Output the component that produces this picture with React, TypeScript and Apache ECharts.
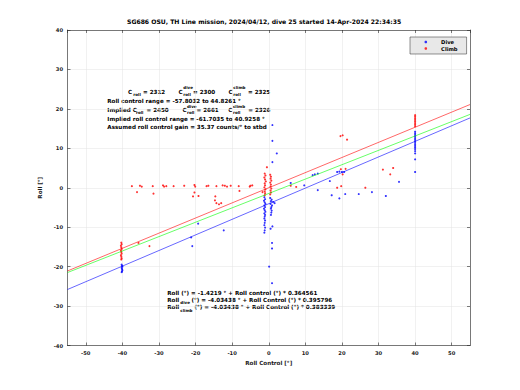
import React, { useEffect, useRef } from 'react';
import * as echarts from 'echarts';

const TITLE = 'SG686 OSU, TH Line mission, 2024/04/12, dive 25 started 14-Apr-2024 22:34:35';
const X_NAME = 'Roll Control [°]';
const Y_NAME = 'Roll [°]';
const X_RANGE = [-55, 55];
const Y_RANGE = [-40, 40];
const SERIES_NAMES = ['Dive', 'Climb'];

// Dive samples (roll control °, roll °)
const diveX = [
  -40.2, -40.1, -40.0, -40.2, -40.1, -40.0, -40.1, -40.2,
  -21.2, -20.9, -19.3, -12.3,
  -1.2, -1.0, -1.3, -1.1, -0.9, -1.2, -1.0, -1.3, -1.1, -0.9, -1.2, -1.0, -1.1, -1.2, -1.0, -1.1, -1.2, -1.0, -1.1, -1.2,
  0.4, 0.8, 0.6, 1.2, 1.6, 0.5, 0.9, 0.7, 0.6, 0.8, 0.7, 0.6,
  1.0, 1.0, 2.2, 1.0, 1.0, 0.5, 0.9, 0.9, 0.1, 0.9,
  6.0, 9.7, 12.0, 12.6, 13.4, 13.4, 16.7, 17.2, 19.3, 20.9, 24.6, 28.2, 32.0, 35.6, 18.7, 19.3, 20.0, 20.6,
  40, 40, 40, 40, 40, 40, 40, 40, 40, 40, 40, 40, 40, 40, 40, 40,
];
const diveY = [
  -19.5, -19.8, -20.0, -20.3, -20.6, -20.9, -21.2, -21.4,
  -12.6, -14.8, -9.1, -10.8,
  -2.4, -2.9, -3.3, -3.7, -4.1, -4.5, -4.9, -5.3, -5.7, -6.1, -6.5, -6.9, -7.3, -7.8, -8.3, -8.9, -9.5, -10.1, -10.8, -11.4,
  -2.6, -3.0, -3.4, -3.6, -3.9, -4.1, -4.5, -4.9, -5.3, -5.8, -6.3, -6.9,
  15.9, 11.9, 8.7, 6.5, -9.8, -10.4, -14.0, -15.4, -20.0, -24.2,
  1.2, 0.6, 3.2, 3.4, 3.6, -0.6, 1.7, -1.9, -2.7, -1.6, -1.6, -1.1, -2.1, 1.5, 4.0, 4.1, 4.0, 4.0,
  14.2, 13.8, 13.4, 13.0, 12.6, 12.2, 11.8, 11.4, 11.0, 10.6, 10.2, 9.8, 9.3, 8.7, 7.2, 4.0,
];

// Climb samples (roll control °, roll °)
const climbX = [
  -40.3, -40.2, -40.4, -40.3, -40.2, -40.4, -40.3, -40.2, -40.4, -40.3, -40.2, -40.3,
  -37.4, -35.2, -34.7, -31.7, -28.9, -28.6, -28.0, -26.0, -23.1, -20.3, -20.1, -17.0, -16.5, -14.3, -12.0, -11.4, -10.4, -8.2, -12.6, -5.0, -5.2, -4.5, 6.0, 7.5,
  -36.0, -31.5, -20.3, -20.7, -19.2, -14.6, -14.7, -14.3, -13.6, -13.0, -8.0, -1.7,
  -35.6, -32.6,
  -1.1, -0.9, -1.2, -1.0, -0.8, -1.1, -1.0, -1.2, -0.9, -1.1, -1.0, -1.1, -0.5,
  0.4, 0.6, 0.5, 0.7, 0.4, 0.6, 0.5, 0.7, 0.5, 0.6, 0.4,
  19.6, 20.2, 21.4, 19.7, 21.0, 20.2, 31.2, 34.0, 33.2, 18.7, 19.8, 26.4,
  40, 40, 40, 40, 40, 40, 40, 40,
];
const climbY = [
  -13.9, -14.3, -14.7, -15.1, -15.5, -15.9, -16.3, -16.7, -17.1, -17.5, -17.9, -18.2,
  0.4, 0.5, 0.3, 0.4, 0.6, 0.3, 0.4, 0.4, 0.5, 0.7, 0.3, 0.4, 0.5, 0.4, 0.5, 0.3, 0.5, 0.4, 0.6, 0.5, 0.3, 0.6, 0.5, 0.2,
  -1.1, -1.5, -1.2, -2.2, -2.1, -2.2, -3.2, -3.9, -4.2, -3.9, -0.8, -1.1,
  -14.0, -14.8,
  3.6, 3.1, 2.6, 2.1, 1.6, 1.1, 0.6, 0.1, -0.4, -0.9, -1.4, -1.9, 5.2,
  3.3, 2.8, 2.3, 1.8, 1.3, 0.8, 0.3, -0.2, -0.7, -1.2, -1.7,
  13.1, 13.3, 12.2, 4.7, 4.8, 3.4, 4.6, 5.0, 3.4, 0.0, 0.4, 0.0,
  15.6, 16.0, 16.4, 16.8, 17.2, 17.6, 18.0, 18.4,
];

// Fit lines, end points read at the axis limits
const fitX = [-55, 55];
const diveFitY = [-25.8, 17.7];
const allFitY = [-21.5, 18.6];
const climbFitY = [-21.1, 21.1];

const FONT = 'DejaVu Sans';
const INK = '#1a1a1a';

type Seg = { t: string; x: number; y: number; s?: number };

function txt(seg: Seg) {
  return {
    type: 'text',
    x: seg.x,
    y: seg.y,
    silent: true,
    style: {
      text: seg.t,
      fill: '#000',
      fontSize: seg.s ?? 5.6,
      fontWeight: 'bold',
      fontFamily: FONT,
      align: 'left',
      verticalAlign: 'middle',
    },
  };
}

export default function App() {
  const ref = useRef<HTMLDivElement>(null);

  useEffect(() => {
    if (!ref.current) return;
    const chart = echarts.init(ref.current, undefined, { renderer: 'svg' });

    const pts = (xs: number[], ys: number[]) => xs.map((x, i) => [x, ys[i]]);

    const sub = 4;
    const annotations: Seg[] = [
      // line 1
      { t: 'C', x: 128, y: 91.5 },
      { t: 'roll', x: 133.3, y: 94.5, s: sub },
      { t: '= 2312', x: 143, y: 91.5 },
      { t: 'C', x: 178.5, y: 91.5 },
      { t: 'dive', x: 183.3, y: 87.5, s: sub },
      { t: 'roll', x: 183.3, y: 94.5, s: sub },
      { t: '= 2300', x: 193, y: 91.5 },
      { t: 'C', x: 228.5, y: 91.5 },
      { t: 'climb', x: 233.3, y: 87.5, s: sub },
      { t: 'roll', x: 233.3, y: 94.5, s: sub },
      { t: '= 2325', x: 248, y: 91.5 },
      // line 2
      { t: 'Roll control range = -57.8032 to 44.8261 °', x: 107.3, y: 100.7 },
      // line 3
      { t: 'Implied C', x: 107.3, y: 110 },
      { t: 'roll', x: 136, y: 112.8, s: sub },
      { t: '= 2450', x: 146.5, y: 110 },
      { t: 'C', x: 182.5, y: 110 },
      { t: 'dive', x: 187, y: 106, s: sub },
      { t: 'roll', x: 187, y: 112.8, s: sub },
      { t: '= 2661', x: 196.5, y: 110 },
      { t: 'C', x: 228.3, y: 110 },
      { t: 'climb', x: 233, y: 106, s: sub },
      { t: 'roll', x: 233, y: 112.8, s: sub },
      { t: '= 2326', x: 248.3, y: 110 },
      // line 4, 5
      { t: 'Implied roll control range = -61.7035 to 40.9258 °', x: 107.3, y: 119.3 },
      { t: 'Assumed roll control gain = 35.37 counts/° to stbd', x: 107.3, y: 126.8 },
      // fit equations
      { t: 'Roll (°) = -1.4219 ° + Roll control (°) * 0.364561', x: 167.3, y: 293.3 },
      { t: 'Roll', x: 167.3, y: 299.6 },
      { t: 'dive', x: 180.3, y: 302.3, s: sub },
      { t: '(°) = -4.03438 ° + Roll Control (°) * 0.395796', x: 191.5, y: 299.6 },
      { t: 'Roll', x: 167.3, y: 307.3 },
      { t: 'climb', x: 180.3, y: 310.2, s: sub },
      { t: '(°) = -4.03438 ° + Roll Control (°) * 0.383339', x: 194.5, y: 307.3 },
    ];

    const axisCommon = {
      type: 'value',
      axisLine: { show: true, onZero: false, lineStyle: { color: '#262626', width: 0.6 } },
      axisTick: { show: true, inside: true, length: 3, lineStyle: { color: '#262626', width: 0.6 } },
    };

    chart.setOption({
      animation: false,
      backgroundColor: '#ffffff',
      textStyle: { fontFamily: FONT },
      title: {
        text: TITLE,
        left: 127,
        top: 18.5,
        padding: 0,
        textStyle: { fontSize: 6.1, fontWeight: 'bold', color: '#000', fontFamily: FONT },
      },
      legend: {
        data: SERIES_NAMES,
        orient: 'vertical',
        left: 410,
        top: 37,
        itemWidth: 2.6,
        itemHeight: 2.6,
        itemGap: 1.5,
        icon: 'circle',
        padding: [2.5, 9, 3, 14.5],
        backgroundColor: '#e8e8e8',
        borderColor: '#262626',
        borderWidth: 0.5,
        selectedMode: false,
        textStyle: { fontSize: 5.2, fontWeight: 'bold', color: '#000', fontFamily: FONT, padding: [0, 0, 0, 9] },
      },
      grid: { left: 67.5, right: 50, top: 30, bottom: 44.5, containLabel: false },
      xAxis: [
        {
          ...axisCommon,
          position: 'bottom',
          min: X_RANGE[0],
          max: X_RANGE[1],
          minInterval: 10,
          maxInterval: 10,
          splitNumber: 11,
          name: X_NAME,
          nameLocation: 'middle',
          nameGap: 14,
          nameTextStyle: { fontSize: 5.6, fontWeight: 'bold', color: INK, fontFamily: FONT },
          axisLabel: { fontSize: 5.2, fontWeight: 'bold', color: INK, margin: 5, showMinLabel: false, showMaxLabel: false, fontFamily: FONT },
          splitLine: { show: true, lineStyle: { color: '#e2e2e2', width: 0.5 } },
        },
        {
          ...axisCommon,
          position: 'top',
          min: X_RANGE[0],
          max: X_RANGE[1],
          minInterval: 10,
          maxInterval: 10,
          splitNumber: 11,
          axisLabel: { show: false },
          splitLine: { show: false },
        },
      ],
      yAxis: [
        {
          ...axisCommon,
          position: 'left',
          min: Y_RANGE[0],
          max: Y_RANGE[1],
          interval: 10,
          name: Y_NAME,
          nameLocation: 'middle',
          nameGap: 17,
          nameTextStyle: { fontSize: 5.6, fontWeight: 'bold', color: INK, fontFamily: FONT },
          axisLabel: { fontSize: 5.2, fontWeight: 'bold', color: INK, margin: 4.5, fontFamily: FONT },
          splitLine: { show: true, lineStyle: { color: '#e2e2e2', width: 0.5 } },
        },
        {
          ...axisCommon,
          position: 'right',
          min: Y_RANGE[0],
          max: Y_RANGE[1],
          interval: 10,
          axisLabel: { show: false },
          splitLine: { show: false },
        },
      ],
      series: [
        {
          name: 'Dive',
          type: 'scatter',
          data: pts(diveX, diveY),
          symbol: 'circle',
          symbolSize: 2.1,
          itemStyle: { color: '#0000ff' },
          z: 3,
        },
        {
          name: 'Climb',
          type: 'scatter',
          data: pts(climbX, climbY),
          symbol: 'circle',
          symbolSize: 2.1,
          itemStyle: { color: '#ff0000' },
          z: 3,
        },
        {
          name: 'dive fit',
          type: 'line',
          data: pts(fitX, diveFitY),
          showSymbol: false,
          lineStyle: { color: '#0000ff', width: 0.6 },
          z: 4,
        },
        {
          name: 'fit',
          type: 'line',
          data: pts(fitX, allFitY),
          showSymbol: false,
          lineStyle: { color: '#00ff00', width: 0.6 },
          z: 4,
        },
        {
          name: 'climb fit',
          type: 'line',
          data: pts(fitX, climbFitY),
          showSymbol: false,
          lineStyle: { color: '#ff0000', width: 0.6 },
          z: 4,
        },
      ],
      graphic: annotations.map(txt),
    });

    return () => chart.dispose();
  }, []);

  return <div ref={ref} style={{ position: 'fixed', left: 0, top: 0, width: 520, height: 390, background: '#fff' }} />;
}
